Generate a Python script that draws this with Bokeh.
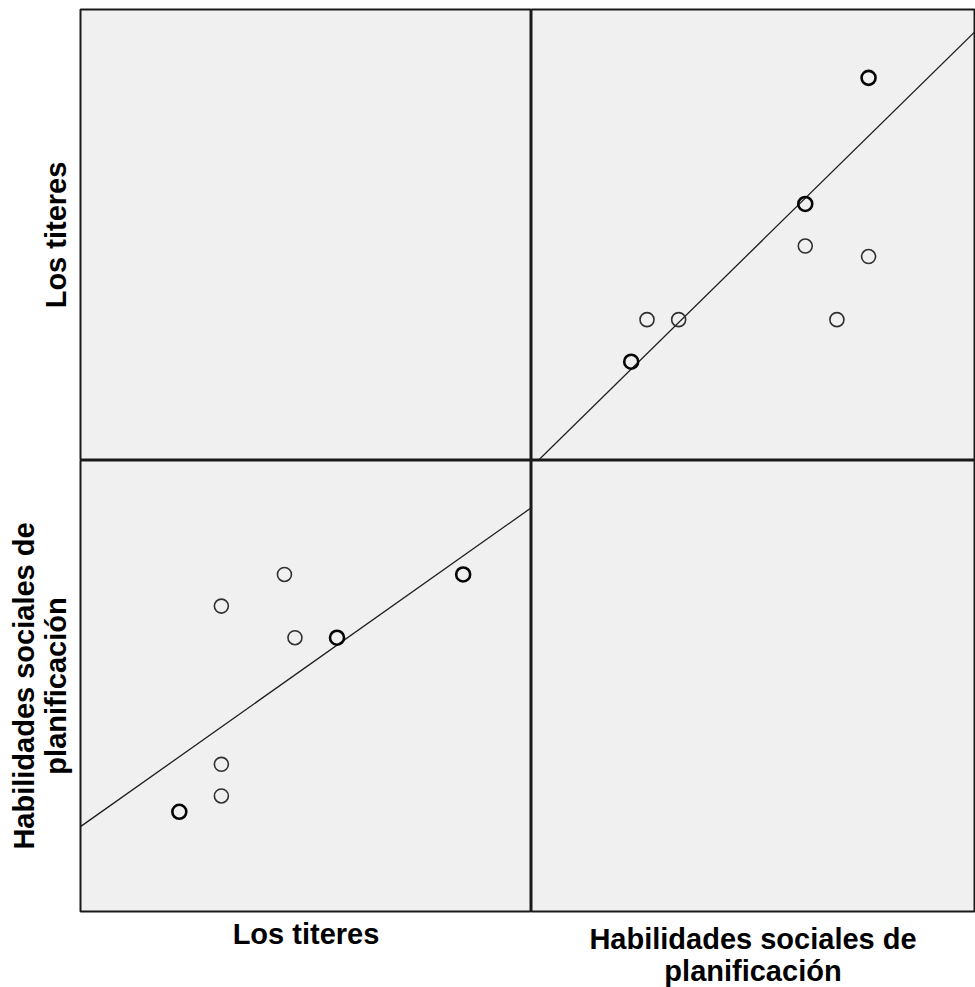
from collections import Counter

from bokeh.plotting import figure
from bokeh.layouts import gridplot
from bokeh.models import FixedTicker, ColumnDataSource
from bokeh.embed import file_html
from bokeh.resources import INLINE

# ---------------- data ----------------
titeres = [30, 30, 34, 34, 34, 40, 41, 45, 45, 57, 57]
habilidades = [20, 20, 21, 23, 33, 35, 31, 31, 31, 35, 35]

label_tit = "Los titeres"
label_hab = "Habilidades sociales de\nplanificación"

tit_range = (20.6, 63.5)
hab_range = (13.7, 42.2)

# fitted lines (intercept, slope)
fit_hab_on_tit = (9.38, 0.470)
fit_tit_on_hab = (-0.27, 1.478)

# ---------------- layout / style ----------------
CELL = 451
RIGHT_CELL = 443
LEFT_BORDER = 80
TOP_BORDER = 9
BOTTOM_BORDER = 76
FONT = "Liberation Sans"
BG = "#F0F0F0"

hab_range_right = (hab_range[0],
                   hab_range[0] + (hab_range[1] - hab_range[0]) * RIGHT_CELL / CELL)

counts = Counter(zip(titeres, habilidades))
pairs = list(counts.keys())
u_tit = [a for a, b in pairs]
u_hab = [b for a, b in pairs]
u_lw = [1.6 if counts[k] == 1 else 2.6 for k in pairs]
u_col = ["#303030" if counts[k] == 1 else "#050505" for k in pairs]


def style_axis(ax, label, standoff):
    ax.ticker = FixedTicker(ticks=[])
    ax.axis_line_color = None
    ax.major_tick_line_color = None
    ax.minor_tick_line_color = None
    ax.major_tick_out = 0
    ax.major_tick_in = 0
    ax.major_label_standoff = 0
    ax.major_label_text_font_size = "0px"
    ax.axis_label = label
    ax.axis_label_standoff = standoff
    ax.axis_label_text_font = FONT
    ax.axis_label_text_font_style = "bold"
    ax.axis_label_text_font_size = "29px"
    ax.axis_label_text_color = "black"
    ax.axis_label_text_line_height = 1.0


def make_fig(xr, yr, fw, left, top, right, bottom, xlabel=None, ylabel=None,
             xstand=6, ystand=8):
    p = figure(frame_width=fw, frame_height=CELL, x_range=xr, y_range=yr,
               output_backend="svg", toolbar_location=None, tools="",
               x_axis_location="below" if xlabel else None,
               y_axis_location="left" if ylabel else None,
               min_border_left=left, min_border_top=top,
               min_border_right=right, min_border_bottom=bottom)
    p.background_fill_color = BG
    p.border_fill_color = "white"
    p.outline_line_color = "#1a1a1a"
    p.outline_line_width = 2
    p.grid.visible = False
    if xlabel:
        style_axis(p.xaxis[0], xlabel, xstand)
    if ylabel:
        style_axis(p.yaxis[0], ylabel, ystand)
    return p


# top-left: empty diagonal cell (row: Los titeres)
tl = make_fig(tit_range, tit_range, CELL, LEFT_BORDER, TOP_BORDER, 0, 0,
              ylabel=label_tit, ystand=9)

# top-right: x = habilidades, y = titeres
tr = make_fig(hab_range_right, tit_range, RIGHT_CELL, 0, TOP_BORDER, 1, 0)
src_tr = ColumnDataSource(dict(x=u_hab, y=u_tit, lw=u_lw, c=u_col))
a, b = fit_tit_on_hab
xs = [hab_range[0], hab_range[1]]
tr.line(xs, [a + b * v for v in xs], line_color="#1e1e1e", line_width=1.3)
tr.scatter("x", "y", source=src_tr, marker="circle", size=14, fill_color=None,
           line_color="c", line_width="lw")

# bottom-left: x = titeres, y = habilidades
bl = make_fig(tit_range, hab_range, CELL, LEFT_BORDER, 0, 0, BOTTOM_BORDER,
              xlabel=label_tit, ylabel=label_hab, xstand=6, ystand=9)
src_bl = ColumnDataSource(dict(x=u_tit, y=u_hab, lw=u_lw, c=u_col))
a, b = fit_hab_on_tit
xs = [tit_range[0], tit_range[1]]
bl.line(xs, [a + b * v for v in xs], line_color="#1e1e1e", line_width=1.3)
bl.scatter("x", "y", source=src_bl, marker="circle", size=14, fill_color=None,
           line_color="c", line_width="lw")

# bottom-right: empty diagonal cell
br = make_fig(hab_range_right, hab_range, RIGHT_CELL, 0, 0, 1, BOTTOM_BORDER,
              xlabel=label_hab, xstand=11)

grid = gridplot([[tl, tr], [bl, br]], toolbar_location=None)

open("out.html", "w").write(file_html(grid, INLINE))
